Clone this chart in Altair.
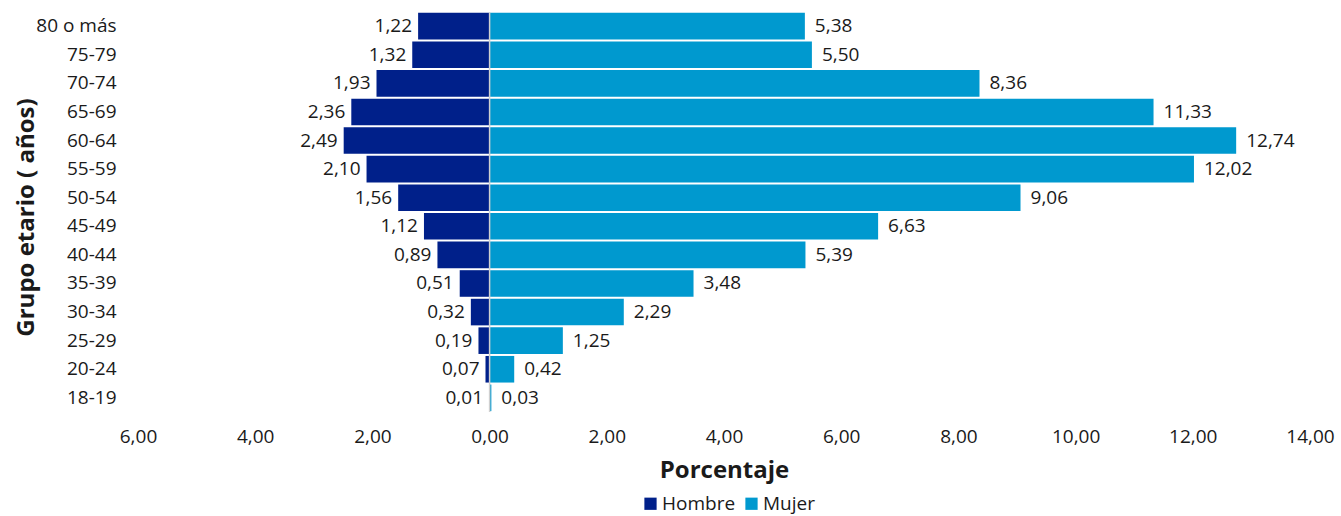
import altair as alt
import pandas as pd

grupos = ["80 o más", "75-79", "70-74", "65-69", "60-64", "55-59", "50-54",
          "45-49", "40-44", "35-39", "30-34", "25-29", "20-24", "18-19"]
hombre = [1.22, 1.32, 1.93, 2.36, 2.49, 2.10, 1.56, 1.12, 0.89, 0.51, 0.32, 0.19, 0.07, 0.01]
mujer = [5.38, 5.50, 8.36, 11.33, 12.74, 12.02, 9.06, 6.63, 5.39, 3.48, 2.29, 1.25, 0.42, 0.03]

rows = []
for g, h, m in zip(grupos, hombre, mujer):
    rows.append({"grupo": g, "sexo": "Hombre", "valor": -h, "abs": h})
    rows.append({"grupo": g, "sexo": "Mujer", "valor": m, "abs": m})
df = pd.DataFrame(rows)

FONT = "Open Sans"
TXT = "#1a1a1a"
FS = 19

base = alt.Chart(df).transform_calculate(
    lab="replace(format(datum.abs, '.2f'), '.', ',')"
)

yenc = alt.Y("grupo:N", sort=grupos,
             scale=alt.Scale(paddingInner=0.07, paddingOuter=0.03),
             axis=alt.Axis(title="Grupo etario ( años)", titleFontSize=24, titleFontWeight="bold",
                           titleColor=TXT, titleX=-112, titleY=205, titleBaseline="middle",
                           titleAngle=270, titleAlign="center",
                           labelFontSize=FS, labelColor=TXT,
                           labelPadding=22, ticks=False, domain=False, labelFont=FONT, titleFont=FONT))

xscale = alt.Scale(domain=[-6, 14], nice=False, zero=True)

bars = base.mark_bar().encode(
    x=alt.X("valor:Q", scale=xscale,
            axis=alt.Axis(title="Porcentaje", titleFontSize=24, titleFontWeight="bold", titleColor=TXT,
                          titlePadding=12, labelFontSize=FS, labelColor=TXT, labelPadding=15,
                          values=[-6, -4, -2, 0, 2, 4, 6, 8, 10, 12, 14],
                          labelExpr="replace(format(abs(datum.value), '.2f'), '.', ',')",
                          ticks=False, domain=False, grid=False, labelFont=FONT, titleFont=FONT,
                          labelFlush=False)),
    y=yenc,
    color=alt.Color("sexo:N", scale=alt.Scale(domain=["Hombre", "Mujer"], range=["#00208a", "#0099cf"]),
                    legend=alt.Legend(title=None, orient="none", legendX=503, legendY=482,
                                      direction="horizontal", symbolType="square", symbolSize=150,
                                      symbolStrokeWidth=0, labelFontSize=FS, labelColor=TXT,
                                      labelFont=FONT, columnPadding=6, labelOffset=2)),
)

txt_h = base.transform_filter("datum.sexo == 'Hombre'").mark_text(
    align="right", baseline="middle", dx=-6, fontSize=FS, font=FONT, color=TXT
).encode(x=alt.X("valor:Q", scale=xscale), y=alt.Y("grupo:N", sort=grupos), text="lab:N")

txt_m = base.transform_filter("datum.sexo == 'Mujer'").mark_text(
    align="left", baseline="middle", dx=10, fontSize=FS, font=FONT, color=TXT
).encode(x=alt.X("valor:Q", scale=xscale), y=alt.Y("grupo:N", sort=grupos), text="lab:N")

zero = alt.Chart(pd.DataFrame({"z": [0]})).mark_rule(color="#d0d0d0", strokeWidth=1.5).encode(
    x=alt.X("z:Q", scale=xscale)
)

chart = alt.layer(bars, zero, txt_h, txt_m).properties(
    width=1172, height=400,
    autosize=alt.AutoSizeParams(type="none"),
    padding={"left": 138, "top": 12, "right": 31, "bottom": 104},
).configure(font=FONT).configure_view(strokeWidth=0, stroke=None)

chart.save("out.html", embed_options={"renderer": "svg", "actions": False})
